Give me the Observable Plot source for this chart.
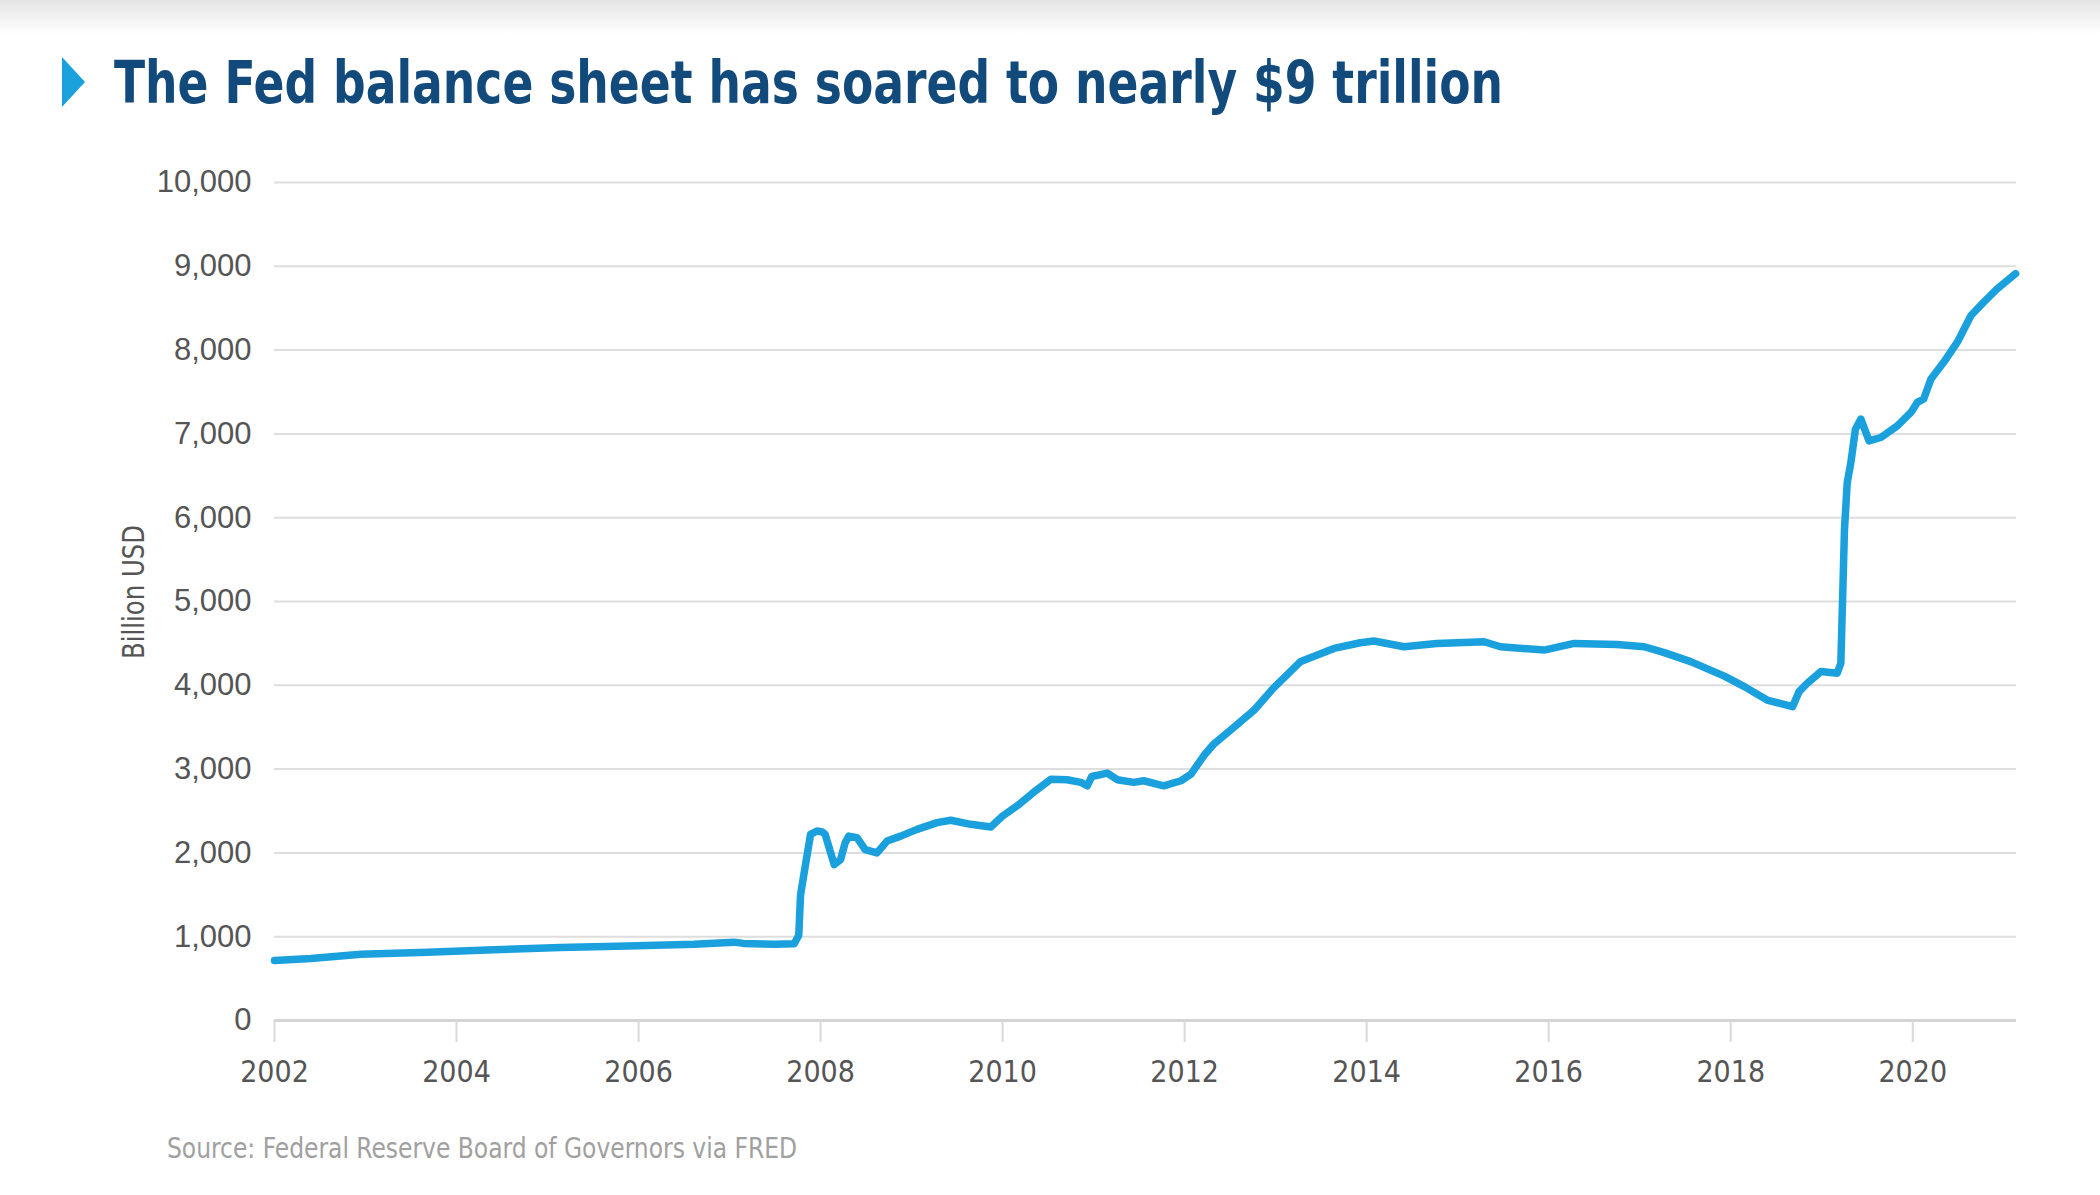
<!DOCTYPE html>
<html><head><meta charset="utf-8">
<script src="https://cdn.jsdelivr.net/npm/d3@7"></script>
<script src="https://cdn.jsdelivr.net/npm/@observablehq/plot@0.6"></script>
<style>
body{margin:0;background:#fff;width:2100px;height:1195px;position:relative;overflow:hidden;font-family:"Liberation Sans",Arial,sans-serif}
#shade{position:absolute;left:0;top:0;width:2100px;height:34px;background:linear-gradient(#e4e4e4,#ffffff)}
#marker{position:absolute;left:62px;top:57px;width:0;height:0;border-left:23px solid #1ba1dc;border-top:25px solid transparent;border-bottom:25px solid transparent}
.cond{font-family:"DejaVu Sans Condensed","Liberation Sans Narrow",sans-serif;white-space:nowrap;position:absolute}
#title{left:114px;top:54px;font-weight:bold;font-size:58px;line-height:58px;color:#134a7c;transform-origin:0 50%}
#chart{position:absolute;left:0;top:150px}
#ylabel{left:134px;top:592px;font-size:30px;line-height:30px;color:#555}
#source{left:167px;top:1135px;font-size:28px;line-height:28px;color:#a0a0a0;transform-origin:0 50%}
</style>
</head>
<body>
<div id="shade"></div>
<div id="marker"></div>
<div id="title" class="cond">The Fed balance sheet has soared to nearly $9 trillion</div>
<div id="chart"></div>
<div id="ylabel" class="cond">Billion USD</div>
<div id="source" class="cond">Source: Federal Reserve Board of Governors via FRED</div>
<script>
// Time positions as drawn on the reference's axis (years)
const years = [
  2002.00, 2002.40, 2002.95, 2003.68, 2004.41, 2005.14, 2005.88, 2006.61, 2007.05, 2007.15,
  2007.50, 2007.71, 2007.76, 2007.78, 2007.84, 2007.89, 2007.96, 2008.02, 2008.05, 2008.15,
  2008.22, 2008.27, 2008.31, 2008.40, 2008.49, 2008.62, 2008.73, 2008.88, 2009.06, 2009.28,
  2009.43, 2009.65, 2009.87, 2010.00, 2010.16, 2010.34, 2010.53, 2010.71, 2010.86, 2010.93,
  2010.98, 2011.15, 2011.26, 2011.44, 2011.55, 2011.77, 2011.96, 2012.07, 2012.21, 2012.32,
  2012.54, 2012.76, 2012.97, 2013.27, 2013.64, 2013.93, 2014.08, 2014.41, 2014.77, 2015.29,
  2015.47, 2015.95, 2016.28, 2016.75, 2017.05, 2017.27, 2017.56, 2017.93, 2018.15, 2018.40,
  2018.68, 2018.75, 2018.84, 2018.99, 2019.17, 2019.21, 2019.23, 2019.25, 2019.28, 2019.32,
  2019.37, 2019.43, 2019.52, 2019.65, 2019.83, 2019.98, 2020.05, 2020.12, 2020.20, 2020.34,
  2020.49, 2020.64, 2020.78, 2020.93, 2021.13
];
// Fed total assets, billion USD
const values = [
  715, 740, 790, 815, 845, 870, 890, 910, 935, 920,
  910, 915, 1016, 1500, 1900, 2221, 2261, 2250, 2221, 1860,
  1920, 2120, 2200, 2181, 2040, 2000, 2141, 2200, 2281, 2361,
  2390, 2341, 2309, 2440, 2562, 2723, 2880, 2873, 2841, 2801,
  2912, 2952, 2873, 2841, 2861, 2801, 2861, 2940, 3159, 3299,
  3498, 3700, 3960, 4280, 4440, 4508, 4528, 4460, 4500, 4520,
  4460, 4420, 4500, 4488, 4460, 4390, 4283, 4110, 3984, 3824,
  3745, 3924, 4024, 4164, 4144, 4263, 5061, 5860, 6418, 6657,
  7056, 7176, 6917, 6957, 7096, 7256, 7376, 7416, 7655, 7854,
  8094, 8413, 8573, 8733, 8912
];
const xTicks = [2002, 2004, 2006, 2008, 2010, 2012, 2014, 2016, 2018, 2020];
const yTicks = [0, 1000, 2000, 3000, 4000, 5000, 6000, 7000, 8000, 9000, 10000];

const data = years.map((x, i) => ({x, y: values[i]}));

const chart = Plot.plot({
  width: 2100, height: 960,
  marginTop: 32, marginBottom: 90, marginLeft: 274, marginRight: 84,
  style: {background: "transparent", fontFamily: "'Liberation Sans', Arial, sans-serif", color: "#555", overflow: "visible"},
  x: {domain: [2002, 2021.14]},
  y: {domain: [0, 10000]},
  marks: [
    Plot.gridY(yTicks, {stroke: "#dedede", strokeOpacity: 1, strokeWidth: 2}),
    Plot.ruleY([0], {stroke: "#d4d4d4", strokeWidth: 3}),
    Plot.axisX(xTicks, {tickSize: 22, tickPadding: 18, stroke: "#d9d9d9", strokeWidth: 2, tickFormat: d => String(d), fontSize: 30, fontFamily: "'DejaVu Sans Condensed', sans-serif", fill: "#555", label: null}),
    Plot.axisY(yTicks, {tickSize: 0, tickPadding: 23, tickFormat: d3.format(","), fontSize: 31, fill: "#555", label: null}),
    Plot.line(data, {x: "x", y: "y", stroke: "#1aa0dc", strokeWidth: 7.5, strokeLinejoin: "round", strokeLinecap: "round"})
  ]
});
document.getElementById("chart").appendChild(chart);

// fit condensed texts to the reference widths
function fitWidth(id, target, extra) {
  const el = document.getElementById(id);
  const w = el.getBoundingClientRect().width;
  el.style.transform = (extra || "") + " scaleX(" + (target / w) + ")";
}
fitWidth("title", 1389);
fitWidth("source", 630);
const yl = document.getElementById("ylabel");
const ylw = yl.getBoundingClientRect().width;
yl.style.transform = "translate(-50%,-50%) rotate(-90deg) scaleX(" + (134 / ylw) + ")";
</script>
</body></html>
